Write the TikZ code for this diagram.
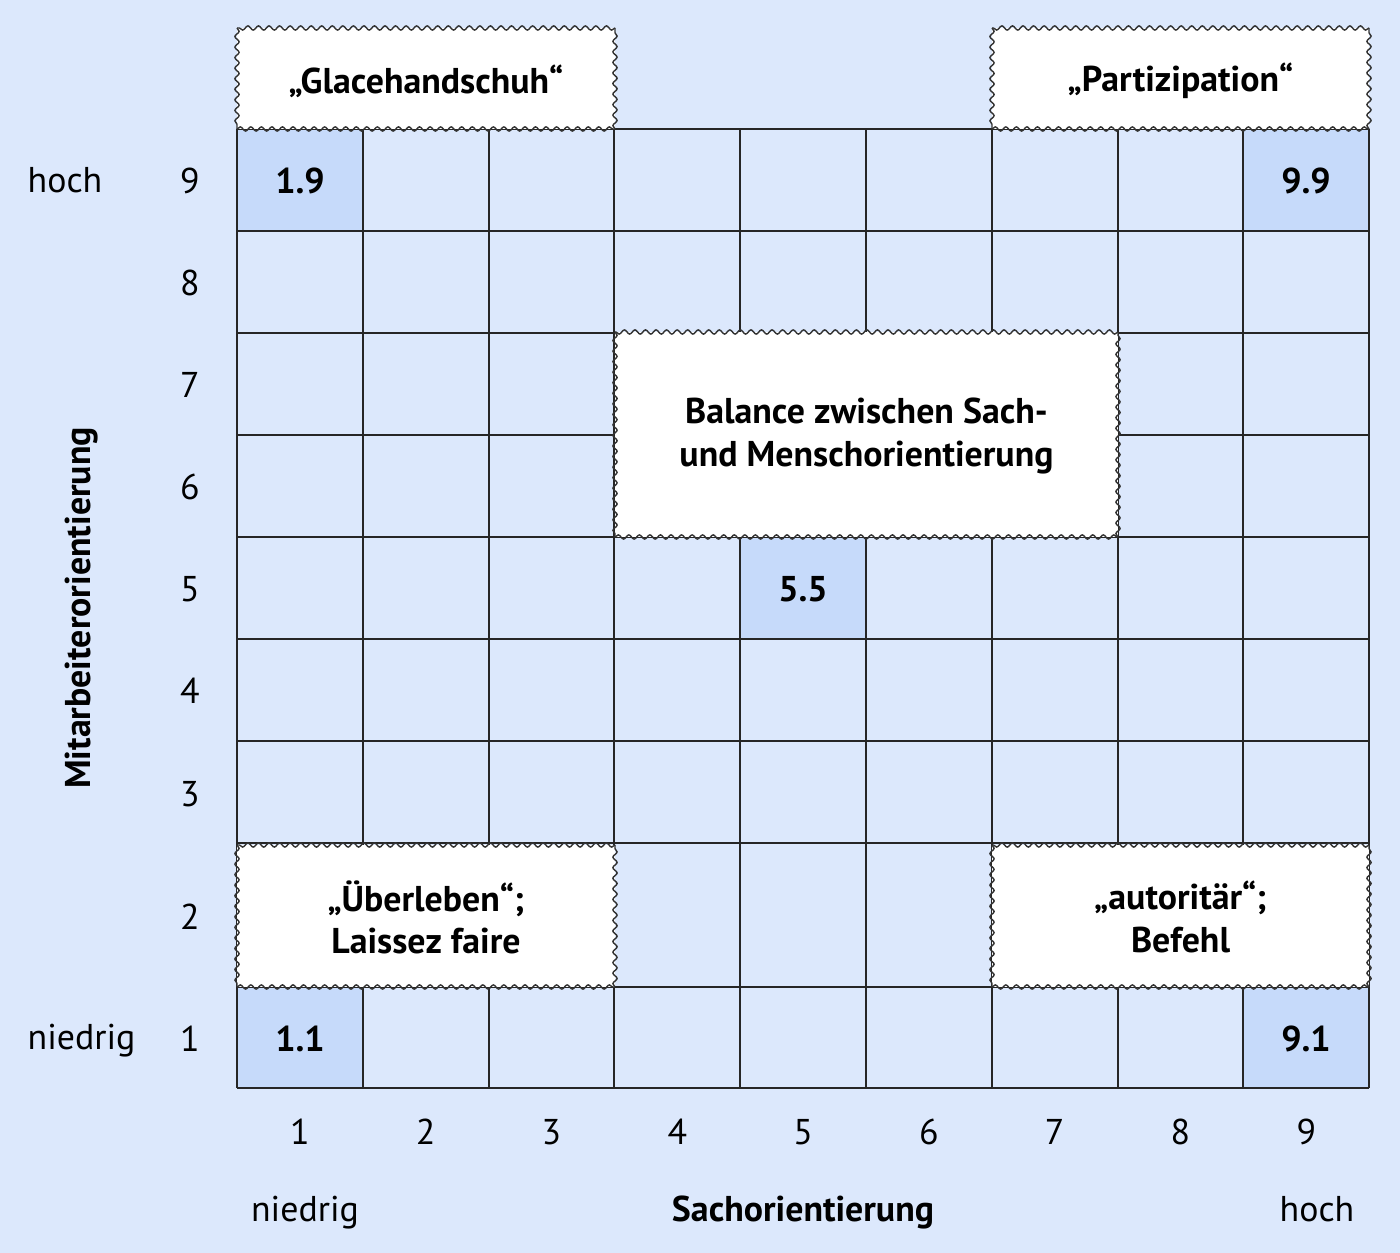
\documentclass[tikz,border=0pt]{standalone}
\usepackage{fontspec}
\setmainfont{PT Sans}
\usepackage{tikz}
\usetikzlibrary{decorations.pathmorphing}
\definecolor{bgblue}{RGB}{220,232,252}
\definecolor{hiblue}{RGB}{198,218,250}
\newcommand{\wavyrect}[4]{%
  \fill[white] (#1,#2) rectangle (#3,#4);
  \draw[wavyline] (#1,#2) -- (#3,#2);
  \draw[wavyline] (#3,#2) -- (#3,#4);
  \draw[wavyline] (#3,#4) -- (#1,#4);
  \draw[wavyline] (#1,#4) -- (#1,#2);
}

\begin{document}
\begin{tikzpicture}[
    font=\fontsize{10.2}{12}\selectfont,
    gridline/.style={black!85, line width=0.55pt},
    wavyline/.style={draw=black!80, line width=0.4pt, decorate,
        decoration={snake, amplitude=0.6pt, segment length=3pt}},
    boxtext/.style={font=\fontsize{10.2}{12}\selectfont\bfseries, align=center},
  ]
  \fill[bgblue] (0,0) rectangle (14,12.53);
  \useasboundingbox (0,0) rectangle (14,12.53);

  % highlighted cells
  \foreach \x/\y in {2.37/10.22, 12.43/10.22, 7.40/6.14, 2.37/1.65, 12.43/1.65}
    \fill[hiblue] (\x,\y) rectangle ++(1.258,1.02);

  % grid
  \foreach \i in {0,...,9}
    \draw[gridline] ({2.37+1.258*\i},1.65) -- ({2.37+1.258*\i},11.24);
  \foreach \y in {1.65,2.66,4.10,5.12,6.14,7.16,8.18,9.20,10.22,11.24}
    \draw[gridline] (2.37,\y) -- (13.69,\y);

  % wavy boxes
  \wavyrect{2.37}{11.24}{6.15}{12.25}
  \wavyrect{9.92}{11.24}{13.69}{12.25}
  \wavyrect{6.15}{7.16}{11.18}{9.21}
  \wavyrect{2.37}{2.66}{6.15}{4.08}
  \wavyrect{9.92}{2.66}{13.69}{4.08}

  \node[boxtext] (glace) at (4.26,11.72) {„Glacehandschuh“};
  \node[boxtext] (partizip) at (11.805,11.72) {„Partizipation“};
  \node[boxtext] (balance) at (8.665,8.17) {Balance zwischen Sach-\\und Menschorientierung};
  \node[boxtext] (ueberleben) at (4.26,3.36) {„Überleben“;\\Laissez faire};
  \node[boxtext] (autoritaer) at (11.805,3.36) {„autoritär“;\\Befehl};

  % style cells
  \node[boxtext] (s19) at (3.00,10.72) {1.9};
  \node[boxtext] (s99) at (13.06,10.72) {9.9};
  \node[boxtext] (s55) at (8.03,6.64) {5.5};
  \node[boxtext] (s11) at (3.00,2.14) {1.1};
  \node[boxtext] (s91) at (13.06,2.14) {9.1};

  % axis numbers
  \foreach \n/\y in {9/10.72,8/9.70,7/8.68,6/7.66,5/6.64,4/5.62,3/4.59,2/3.36,1/2.14}
    \node (r\n) at (1.90,\y) {\n};
  \foreach \n in {1,...,9}
    \node (k\n) at ({2.37+1.258*(\n-0.5)},1.21) {\n};

  % axis names
  \node[anchor=base] (xlow) at (3.05,0.31) {niedrig};
  \node[anchor=base, font=\fontsize{10.2}{12}\selectfont\bfseries] (xname) at (8.03,0.31) {Sachorientierung};
  \node[anchor=base] (xhigh) at (13.17,0.31) {hoch};
  \node[anchor=base west, inner xsep=0pt] (yhigh) at (0.27,10.60) {hoch};
  \node[anchor=base west, inner xsep=0pt] (ylow) at (0.27,2.03) {niedrig};
  \node[rotate=90, font=\fontsize{10.2}{12}\selectfont\bfseries] (yname) at (0.82,6.45) {Mitarbeiterorientierung};
\end{tikzpicture}
\end{document}
